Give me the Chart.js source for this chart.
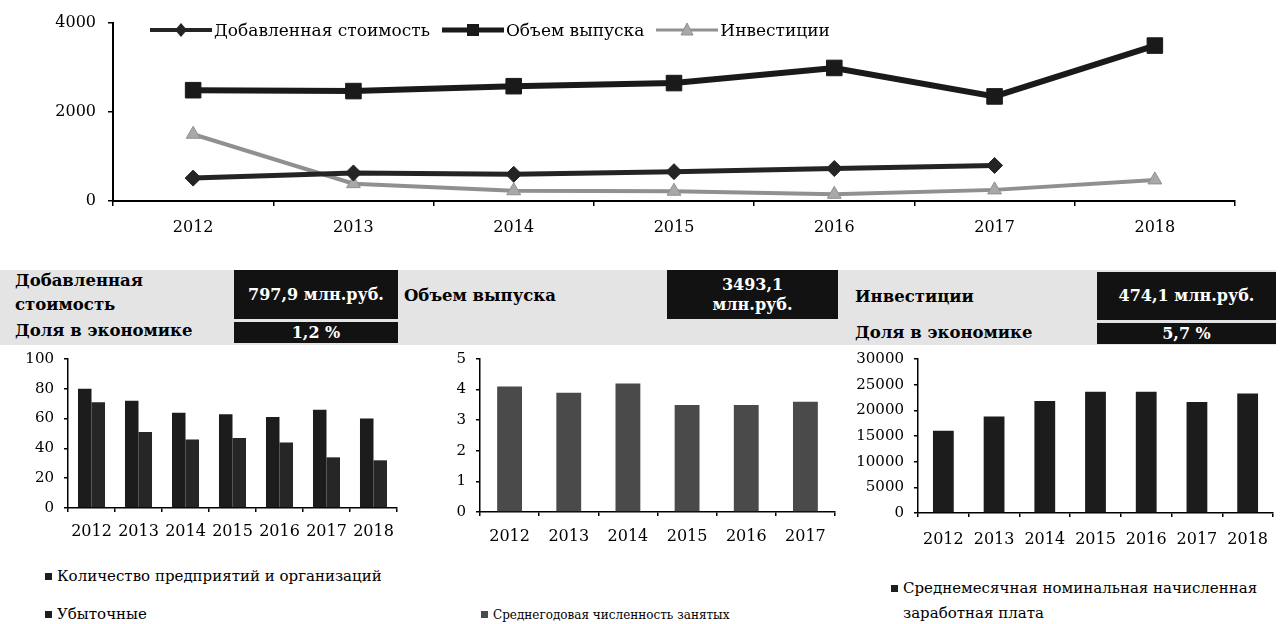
<!DOCTYPE html>
<html lang="ru">
<head>
<meta charset="utf-8">
<title>Показатели отрасли</title>
<script src="https://cdn.jsdelivr.net/npm/chart.js@4.4.1/dist/chart.umd.min.js"></script>
<style>
  html, body { margin: 0; padding: 0; background: #fff; }
  body { width: 1288px; height: 624px; position: relative; overflow: hidden; font-family: 'DejaVu Serif', serif; color: #000; }
  canvas { position: absolute; }
  .band { position: absolute; left: 0; top: 270px; width: 1276px; height: 75px; background: #e4e4e4; }
  .lbl { position: absolute; font-weight: bold; font-size: 16.5px; line-height: 24px; white-space: nowrap; }
  .box { position: absolute; background: #121212; color: #fff; font-weight: bold; font-size: 16px; line-height: 20px;
         display: flex; align-items: center; justify-content: center; text-align: center; }
  #topLegend { position: absolute; left: 150px; top: 20px; display: flex; align-items: center; font-size: 17px; white-space: nowrap; }
  #topLegend .item { display: flex; align-items: center; margin-right: 12px; }
  #topLegend svg { margin-right: 2px; }
  .leg { position: absolute; font-size: 15px; line-height: 25px; white-space: nowrap; }
  .leg i { display: inline-block; width: 7px; height: 7px; background: #1e1e1e; margin-right: 5px; vertical-align: 1px; }
</style>
</head>
<body>
<canvas id="topChart" width="1288" height="244" style="left:0;top:0;width:1288px;height:244px"></canvas>
<div id="topLegend"></div>

<div class="band"></div>
<div class="lbl" style="left:15px;top:269px">Добавленная<br>стоимость</div>
<div class="box" style="left:234px;top:270px;width:164px;height:49px">797,9 млн.руб.</div>
<div class="lbl" style="left:15px;top:320px;line-height:22px">Доля в экономике</div>
<div class="box" style="left:234px;top:322px;width:164px;height:21px">1,2 %</div>
<div class="lbl" style="left:404px;top:284px">Объем выпуска</div>
<div class="box" style="left:667px;top:270px;width:171px;height:49px">3493,1<br>млн.руб.</div>
<div class="lbl" style="left:855px;top:285px">Инвестиции</div>
<div class="box" style="left:1097px;top:272px;width:179px;height:48px">474,1 млн.руб.</div>
<div class="lbl" style="left:855px;top:322px;line-height:22px">Доля в экономике</div>
<div class="box" style="left:1097px;top:323px;width:179px;height:21px">5,7 %</div>

<canvas id="firmsChart" width="410" height="210" style="left:0;top:340px;width:410px;height:210px"></canvas>
<canvas id="staffChart" width="420" height="210" style="left:430px;top:340px;width:420px;height:210px"></canvas>
<canvas id="wageChart" width="448" height="210" style="left:840px;top:340px;width:448px;height:210px"></canvas>

<div class="leg" style="left:45px;top:564px"><i></i>Количество предприятий и организаций</div>
<div class="leg" style="left:45px;top:602px"><i></i>Убыточные</div>
<div class="leg" style="left:481px;top:603px;font-size:12px"><i style="background:#4a4a4a"></i>Среднегодовая численность занятых</div>
<div class="leg" style="left:891px;top:576px"><i></i>Среднемесячная номинальная начисленная<br><span style="margin-left:12px">заработная плата</span></div>

<script>
// top line chart, млн.руб.
const years = ['2012', '2013', '2014', '2015', '2016', '2017', '2018'];
const addedValue = [515, 630, 600, 660, 730, 798, null];
const outputVolume = [2490, 2470, 2580, 2650, 2990, 2350, 3493];
const investments = [1500, 390, 230, 220, 150, 250, 474];
const topRange = [0, 4000, 2000];

// bottom bar charts
const firms = [80, 72, 64, 63, 61, 66, 60];
const unprofitable = [71, 51, 46, 47, 44, 34, 32];
const staffYears = ['2012', '2013', '2014', '2015', '2016', '2017'];
const staff = [4.1, 3.9, 4.2, 3.5, 3.5, 3.6];
const wages = [16000, 18800, 21800, 23600, 23600, 21600, 23300];
const firmsRange = [0, 100, 20];
const staffRange = [0, 5, 1];
const wageRange = [0, 30000, 5000];

const FONT = "'DejaVu Serif', serif";
Chart.defaults.font.family = FONT;
Chart.defaults.color = '#000';

const plain = v => String(v);   // no thousands separators, as in the source

function axisGrid() {
  return { display: true, drawOnChartArea: false, drawTicks: true, tickLength: 5, color: '#000', lineWidth: 1.5 };
}

const topSeries = [
  { label: 'Добавленная стоимость', data: addedValue, color: '#242424', fill: '#242424', width: 5, style: 'rectRot', r: 8 },
  { label: 'Объем выпуска', data: outputVolume, color: '#1a1a1a', fill: '#1a1a1a', width: 6, style: 'rect', r: 11 },
  { label: 'Инвестиции', data: investments, color: '#909090', fill: '#a8a8a8', width: 4, style: 'triangle', r: 8 }
];

new Chart(document.getElementById('topChart'), {
  type: 'line',
  data: {
    labels: years,
    datasets: topSeries.map(s => ({
      label: s.label, data: s.data, borderColor: s.color, backgroundColor: s.fill,
      borderWidth: s.width, pointStyle: s.style, pointRadius: s.r, pointBorderColor: s.color,
      pointBackgroundColor: s.fill, pointBorderWidth: 1, tension: 0, spanGaps: false
    }))
  },
  options: {
    responsive: false, animation: false,
    layout: { padding: { top: 23, right: 53, left: 0, bottom: 0 } },
    plugins: { legend: { display: false }, tooltip: { enabled: false } },
    scales: {
      x: {
        offset: true,
        grid: Object.assign(axisGrid(), { offset: true }),
        border: { display: true, color: '#000', width: 2 },
        ticks: { font: { size: 16 }, color: '#000', padding: 12, maxRotation: 0, autoSkip: false },
        afterFit(s) { s.height = 43; }
      },
      y: {
        min: topRange[0], max: topRange[1],
        grid: axisGrid(),
        border: { display: true, color: '#000', width: 2 },
        ticks: { stepSize: topRange[2], font: { size: 16 }, color: '#000', padding: 12, callback: plain },
        afterFit(s) { s.width = 113; }
      }
    }
  }
});

// legend of the line chart
function legendIcon(s) {
  const w = 62, c = 31, y = 8;
  let m = '';
  if (s.style === 'rectRot') m = `<polygon points="${c},${y - 7} ${c + 6},${y} ${c},${y + 7} ${c - 6},${y}" fill="${s.fill}"/>`;
  if (s.style === 'rect') m = `<rect x="${c - 6}" y="${y - 6}" width="12" height="12" fill="${s.fill}"/>`;
  if (s.style === 'triangle') m = `<polygon points="${c},${y - 7} ${c + 6},${y + 5} ${c - 6},${y + 5}" fill="${s.fill}" stroke="${s.color}"/>`;
  return `<svg width="${w}" height="16"><line x1="0" y1="${y}" x2="${w}" y2="${y}" stroke="${s.color}" stroke-width="${s.width - 1}"/>${m}</svg>`;
}
document.getElementById('topLegend').innerHTML =
  topSeries.map(s => `<div class="item">${legendIcon(s)}<span>${s.label}</span></div>`).join('');

function barChart(id, labels, datasets, range, geo) {
  new Chart(document.getElementById(id), {
    type: 'bar',
    data: { labels, datasets },
    options: {
      responsive: false, animation: false,
      layout: { padding: { top: geo.top, right: geo.right, left: 0, bottom: 0 } },
      plugins: { legend: { display: false }, tooltip: { enabled: false } },
      datasets: { bar: { categoryPercentage: geo.cat, barPercentage: 1 } },
      scales: {
        x: {
          grid: Object.assign(axisGrid(), { offset: true, tickLength: 4 }),
          border: { display: true, color: '#000', width: 1.5 },
          ticks: { font: { size: geo.xFont }, color: '#000', padding: geo.pad, maxRotation: 0, minRotation: 0, autoSkip: false },
          afterFit(s) { s.height = geo.xh; }
        },
        y: {
          min: range[0], max: range[1],
          grid: Object.assign(axisGrid(), { tickLength: 4 }),
          border: { display: true, color: '#000', width: 1.5 },
          ticks: { stepSize: range[2], font: { size: geo.yFont }, color: '#000', padding: 10, callback: plain },
          afterFit(s) { s.width = geo.yw; }
        }
      }
    }
  });
}

barChart('firmsChart', years, [
  { label: 'Количество предприятий и организаций', data: firms, backgroundColor: '#1c1c1c' },
  { label: 'Убыточные', data: unprofitable, backgroundColor: '#262626' }
], firmsRange, { top: 17, right: 13, yw: 68, xh: 42, cat: 0.575, pad: 10, xFont: 16, yFont: 15 });

barChart('staffChart', staffYears, [
  { label: 'Среднегодовая численность занятых', data: staff, backgroundColor: '#4a4a4a' }
], staffRange, { top: 19, right: 15, yw: 50, xh: 38, cat: 0.42, pad: 11, xFont: 16, yFont: 15 });

barChart('wageChart', years, [
  { label: 'Среднемесячная номинальная начисленная заработная плата', data: wages, backgroundColor: '#1c1c1c' }
], wageRange, { top: 19, right: 15, yw: 78, xh: 37, cat: 0.41, pad: 13, xFont: 16, yFont: 15 });
</script>
</body>
</html>
